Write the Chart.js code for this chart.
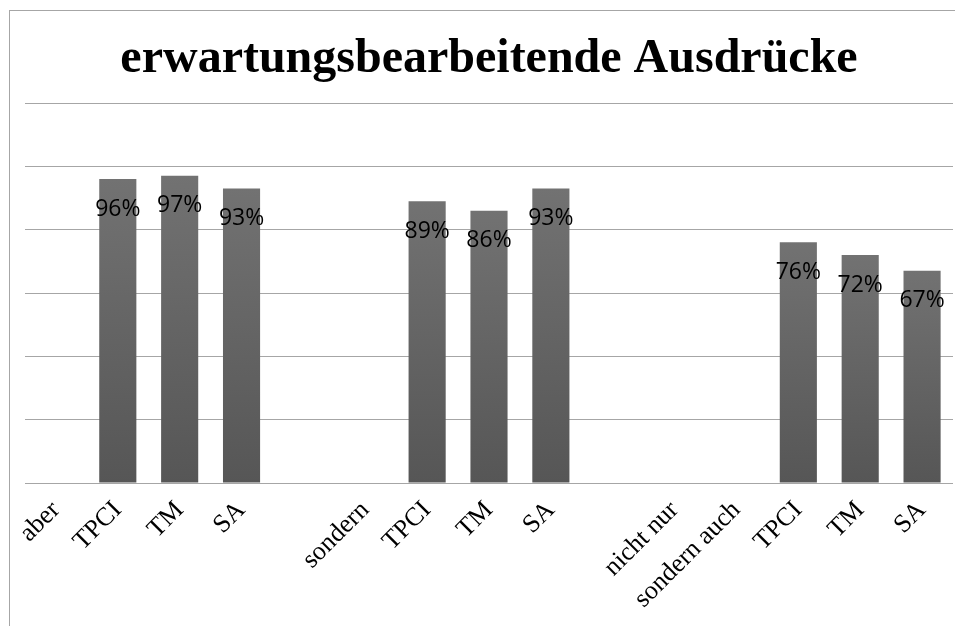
<!DOCTYPE html>
<html>
<head>
<meta charset="utf-8">
<script src="https://cdn.jsdelivr.net/npm/chart.js@4"></script>
<style>
    body { margin: 0; background: #fff; overflow: hidden; }
    .frame { position: absolute; left: 9px; top: 10px; width: 2000px; height: 2000px; border: 1px solid #a6a6a6; }
    #chart { position: absolute; left: 0; top: 0; }
</style>
</head>
<body>
<div class="frame"></div>
<canvas id="chart" width="955" height="626"></canvas>
<script>
// categories along the x axis (empty strings are the gaps between groups)
const categories = ['aber', 'TPCI', 'TM', 'SA', '', 'sondern', 'TPCI', 'TM', 'SA', '', 'nicht nur', 'sondern auch', 'TPCI', 'TM', 'SA'];
// percent values, null where no bar is drawn
const values = [null, 96, 97, 93, null, null, 89, 86, 93, null, null, null, 76, 72, 67];
const titleText = 'erwartungsbearbeitende Ausdrücke';

// draws "96%" etc. a bit below the top of each bar
const barLabels = {
    id: 'barLabels',
    afterDatasetsDraw(chart) {
        const ctx = chart.ctx;
        const meta = chart.getDatasetMeta(0);
        ctx.save();
        ctx.font = '23px "Open Sans"';
        ctx.fillStyle = '#000';
        ctx.textAlign = 'center';
        ctx.textBaseline = 'middle';
        meta.data.forEach((bar, i) => {
            if (values[i] == null) return;
            ctx.fillText(values[i] + '%', bar.x, bar.y + 30);
        });
        ctx.restore();
    }
};

const canvas = document.getElementById('chart');
new Chart(canvas.getContext('2d'), {
    type: 'bar',
    data: {
        labels: categories,
        datasets: [{
            data: values,
            // vertical gradient per bar, lighter at the top
            backgroundColor: (c) => {
                const chart = c.chart;
                if (!chart.chartArea || c.raw == null) return '#666';
                const y = chart.scales.y;
                const g = chart.ctx.createLinearGradient(0, y.getPixelForValue(c.raw), 0, y.getPixelForValue(0));
                g.addColorStop(0, '#727272');
                g.addColorStop(1, '#565656');
                return g;
            },
            borderWidth: 0,
            categoryPercentage: 1,
            barPercentage: 0.6
        }]
    },
    options: {
        responsive: false,
        animation: false,
        layout: { padding: { left: 25, right: 2, top: 0, bottom: 0 } },
        plugins: {
            legend: { display: false },
            tooltip: { enabled: false },
            title: {
                display: true,
                text: titleText,
                color: '#000',
                font: { family: 'Liberation Serif', size: 48, weight: 'bold' },
                padding: { top: 31, bottom: 14.4 }
            }
        },
        scales: {
            x: {
                grid: { display: false },
                border: { display: false },
                ticks: {
                    color: '#000',
                    font: { family: 'Liberation Serif', size: 26 },
                    minRotation: 45,
                    maxRotation: 45,
                    autoSkip: false,
                    padding: 4
                },
                afterFit: (scale) => { scale.height = 143; }
            },
            y: {
                min: 0,
                max: 120,
                ticks: { display: false, stepSize: 20 },
                grid: { color: '#a6a6a6', drawTicks: false },
                border: { display: false },
                afterFit: (scale) => { scale.width = 0; }
            }
        }
    },
    plugins: [barLabels]
});
</script>
</body>
</html>
